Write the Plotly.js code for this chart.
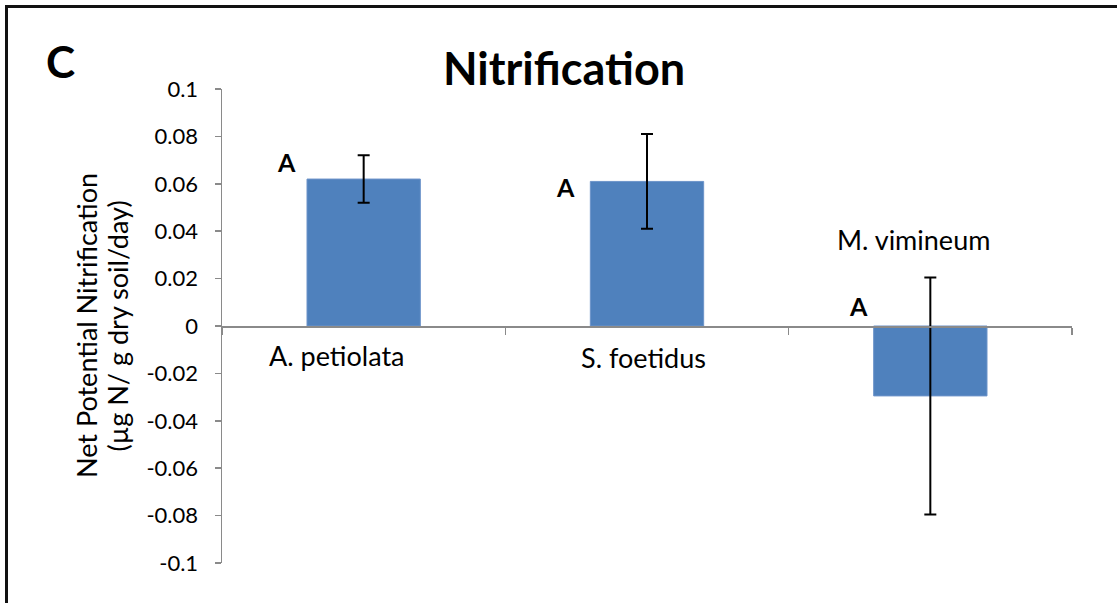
<!DOCTYPE html>
<html>
<head>
<meta charset="utf-8">
<script src="https://cdn.plot.ly/plotly-3.0.1.min.js"></script>
<style>
  html, body { margin: 0; padding: 0; background: #fff; }
  #wrap { position: relative; width: 1117px; height: 603px; overflow: hidden; }
  #chart { position: absolute; left: 0; top: 0; width: 1117px; height: 603px; }
  #frame { position: absolute; left: 5px; top: 5px; width: 1300px; height: 800px;
           border-left: 3px solid #111; border-top: 3px solid #111; pointer-events: none; }
</style>
</head>
<body>
<div id="wrap">
  <div id="chart"></div>
  <div id="frame"></div>
</div>
<script>
// Net potential nitrification by species (mean ± error)
const species = ["A. petiolata", "S. foetidus", "M. vimineum"];
const nitrification = [0.062, 0.061, -0.0295];
const errors = [0.010, 0.020, 0.050];
const groupLetters = ["A", "A", "A"];

// y axis ticks
const yTickVals = [0.1, 0.08, 0.06, 0.04, 0.02, 0, -0.02, -0.04, -0.06, -0.08, -0.1];
const yTickText = ["0.1", "0.08", "0.06", "0.04", "0.02", "0", "-0.02", "-0.04", "-0.06", "-0.08", "-0.1"];

// axis title lines
const yTitleLines = ["Net Potential Nitrification", "(µg N/ g dry soil/day)"];

const FONT = "Lato, 'Open Sans', sans-serif";
const AXIS_GREY = "#8a8a8a";

// label placement (pixel offsets from category centre / zero line)
const nameLabelPos = [
  { xshift: -27, yshift: -29 },
  { xshift: -4, yshift: -31 },
  { xshift: -17, yshift: 87 }
];
const letterPos = [
  { xshift: -77, yshift: 17 },
  { xshift: -82, yshift: -6 },
  { xshift: -72, yshift: 20 }
];

const annotations = [];
species.forEach((s, i) => {
  annotations.push({
    x: s, y: 0, xref: "x", yref: "y",
    text: s, showarrow: false,
    xanchor: "center", yanchor: "middle",
    xshift: nameLabelPos[i].xshift, yshift: nameLabelPos[i].yshift,
    font: { family: FONT, size: 27, color: "#000" }
  });
  annotations.push({
    x: s, y: nitrification[i] > 0 ? nitrification[i] : 0, xref: "x", yref: "y",
    text: "<b>" + groupLetters[i] + "</b>", showarrow: false,
    xanchor: "center", yanchor: "middle",
    xshift: letterPos[i].xshift, yshift: letterPos[i].yshift,
    font: { family: FONT, size: 25, color: "#000" }
  });
});

// panel letter
annotations.push({
  x: -0.19, y: 1.06, xref: "paper", yref: "paper",
  text: "<b>C</b>", showarrow: false, xanchor: "center", yanchor: "middle",
  font: { family: FONT, size: 44, color: "#000" }
});

// chart title
annotations.push({
  x: 0.402, y: 1.045, xref: "paper", yref: "paper",
  text: "<b>Nitrification</b>", showarrow: false, xanchor: "center", yanchor: "middle",
  font: { family: FONT, size: 45, color: "#000" }
});

// y axis title, one annotation per line
const yTitleX = [-0.16, -0.123];
yTitleLines.forEach((line, i) => {
  annotations.push({
    x: yTitleX[i], y: 0.5, xref: "paper", yref: "paper",
    text: line, showarrow: false, textangle: -90, xanchor: "center", yanchor: "middle",
    font: { family: FONT, size: 27, color: "#000" }
  });
});

const trace = {
  type: "bar",
  x: species,
  y: nitrification,
  marker: { color: "#4F81BD", line: { color: "#6d93c9", width: 1 } },
  error_y: { type: "data", array: errors, visible: true, color: "#000", thickness: 2, width: 6 },
  hoverinfo: "x+y"
};

const layout = {
  width: 1117, height: 603,
  margin: { l: 222, r: 45, t: 89, b: 40, pad: 0 },
  paper_bgcolor: "#fff", plot_bgcolor: "#fff",
  showlegend: false,
  bargap: 0.6,
  font: { family: FONT, color: "#000" },
  xaxis: {
    type: "category",
    anchor: "free", position: 0.5,
    showline: true, linecolor: AXIS_GREY, linewidth: 1.5,
    ticks: "outside", tickson: "boundaries", ticklen: 7, tickcolor: AXIS_GREY, tickwidth: 1.5,
    showticklabels: false, showgrid: false, zeroline: false,
    fixedrange: true
  },
  yaxis: {
    range: [-0.1, 0.1],
    tickmode: "array", tickvals: yTickVals, ticktext: yTickText,
    showline: true, linecolor: AXIS_GREY, linewidth: 1.5,
    ticks: "outside", ticklen: 6, tickcolor: AXIS_GREY, tickwidth: 1.5,
    ticklabelstandoff: 12,
    tickfont: { family: FONT, size: 22, color: "#000" },
    showgrid: false, zeroline: false,
    fixedrange: true
  },
  annotations: annotations
};

Plotly.newPlot("chart", [trace], layout, { displayModeBar: false, staticPlot: true });
</script>
</body>
</html>
